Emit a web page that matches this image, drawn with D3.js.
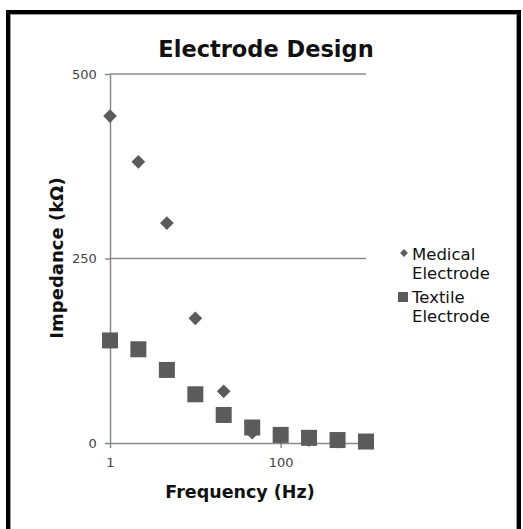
<!DOCTYPE html>
<html>
<head>
<meta charset="utf-8">
<script src="https://cdn.jsdelivr.net/npm/d3@7"></script>
<style>
  html, body { margin: 0; padding: 0; background: #fff; }
  svg { display: block; font-family: "DejaVu Sans", Verdana, sans-serif; }
</style>
</head>
<body>
<div id="chart"></div>
<script>
// ── Data ────────────────────────────────────────────────────────────────
const frequencies = [1, 2.15, 4.64, 10, 21.5, 46.4, 100, 215, 464, 1000];
const medical = [443, 381, 298, 169, 70, 14, 8, 4, 2, 1];
const textile = [139, 127, 99, 66, 38, 21, 11, 7, 4, 2];
const xTicks = [1, 100];
const yTicks = [0, 250, 500];
const seriesNames = ["Medical\nElectrode", "Textile\nElectrode"];

// ── Palette ─────────────────────────────────────────────────────────────
const MARK = "#5b5b5b";
const AXIS = "#8a8a8a";
const LABEL = "#444";

const W = 523, H = 529;
const svg = d3.select("#chart").append("svg").attr("width", W).attr("height", H);

// frame
svg.append("rect").attr("x", 8).attr("y", 12).attr("width", 511).attr("height", 530)
  .attr("fill", "#fff").attr("stroke", "#000").attr("stroke-width", 4);
svg.append("rect").attr("x", 10.5).attr("y", 14.5).attr("width", 506).attr("height", 530)
  .attr("fill", "none").attr("stroke", "#999").attr("stroke-width", 1);

const x = d3.scaleLog().domain([1, 1000]).range([110, 366]);
const y = d3.scaleLinear().domain([0, 500]).range([443, 74]);

// title
svg.append("text").attr("x", 266).attr("y", 57).attr("text-anchor", "middle")
  .style("font-size", "22.5px").style("font-weight", "bold").attr("fill", "#111")
  .text("Electrode Design");

// gridlines
svg.append("g").selectAll("line").data(yTicks.filter(d => d > 0)).enter().append("line")
  .attr("x1", x(1)).attr("x2", x(1000))
  .attr("y1", d => y(d)).attr("y2", d => y(d))
  .attr("stroke", AXIS).attr("stroke-width", 1.5);

// axes
const gx = svg.append("g").attr("transform", `translate(0,${y(0)})`)
  .call(d3.axisBottom(x).tickValues(xTicks).tickFormat(d3.format("d")).tickSize(5).tickSizeOuter(0));
const gy = svg.append("g").attr("transform", `translate(${x(1)},0)`)
  .call(d3.axisLeft(y).tickValues(yTicks).tickSize(5).tickSizeOuter(0));
[gx, gy].forEach(g => {
  g.select(".domain").attr("stroke", AXIS).attr("stroke-width", 1.5);
  g.selectAll(".tick line").attr("stroke", AXIS).attr("stroke-width", 1.5);
  g.selectAll("text").attr("fill", LABEL).style("font-size", "13px")
    .style("font-family", "'DejaVu Sans', Verdana, sans-serif");
});
gx.selectAll("text").attr("dy", "1.2em");
gy.selectAll("text").attr("dx", "-0.4em");

// axis titles
svg.append("text").attr("x", 240).attr("y", 498).attr("text-anchor", "middle")
  .style("font-size", "17.5px").style("font-weight", "bold").attr("fill", "#111")
  .text("Frequency (Hz)");
svg.append("text").attr("transform", "translate(63,258) rotate(-90)").attr("text-anchor", "middle")
  .style("font-size", "18px").style("font-weight", "bold").attr("fill", "#111")
  .text("Impedance (kΩ)");

// medical (diamonds)
svg.append("g").selectAll("path").data(frequencies).enter().append("path")
  .attr("transform", (d, i) => `translate(${x(d)},${y(medical[i])})`)
  .attr("d", d3.symbol(d3.symbolDiamond2, 120)())
  .attr("fill", MARK);

// textile (squares)
const S = 16;
svg.append("g").selectAll("rect").data(frequencies).enter().append("rect")
  .attr("x", d => x(d) - S / 2)
  .attr("y", (d, i) => y(textile[i]) - S / 2)
  .attr("width", S).attr("height", S)
  .attr("fill", MARK);

// legend
const legend = svg.append("g");
legend.append("path").attr("transform", "translate(404,253)")
  .attr("d", d3.symbol(d3.symbolDiamond2, 40)()).attr("fill", MARK);
legend.append("rect").attr("x", 398).attr("y", 292).attr("width", 10).attr("height", 10).attr("fill", MARK);
seriesNames.forEach((name, i) => {
  const t = legend.append("text").attr("x", 412).attr("y", 260 + i * 43)
    .style("font-size", "16.5px").attr("fill", "#111");
  name.split("\n").forEach((line, j) => {
    t.append("tspan").attr("x", 412).attr("dy", j === 0 ? 0 : 19).text(line);
  });
});
</script>
</body>
</html>
